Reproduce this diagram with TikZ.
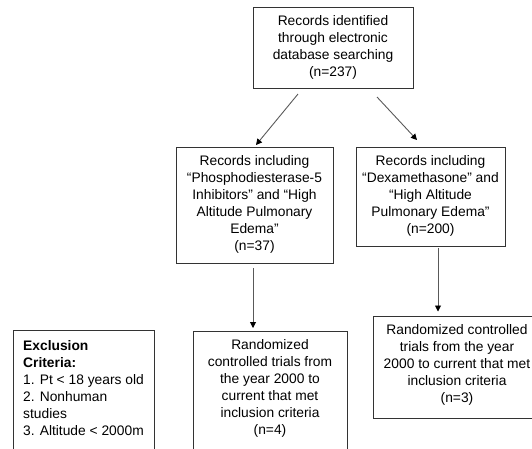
\documentclass[tikz,border=0pt]{standalone}
\usepackage{fontspec}
\setmainfont{Liberation Sans}
\usetikzlibrary{arrows.meta}
\tikzset{
  box/.style={draw=black!80, line width=0.9pt, rectangle, inner sep=0pt},
  txt/.style={font=\fontsize{13.8}{17}\selectfont, align=center, inner sep=0pt},
  arr/.style={draw=black!65, line width=0.9pt, -{Triangle[width=6pt,length=6pt,fill=black,color=black]}}
}
\begin{document}
\begin{tikzpicture}[x=1pt,y=-1pt]
\useasboundingbox (0,0) rectangle (532,448);
\clip (0,0) rectangle (532,448);
% top box
\node[box, minimum width=160pt, minimum height=81pt] (top) at (333,47.5) {};
\node[txt] (topt) at (333,47.5) {Records identified\\through electronic\\database searching\\(n=237)};
% middle left
\node[box, minimum width=157pt, minimum height=116pt] (b2) at (254.5,205) {};
\node[txt] (b2t) at (254.5,204.5) {Records including\\“Phosphodiesterase-5\\Inhibitors” and “High\\Altitude Pulmonary\\Edema”\\(n=37)};
% middle right
\node[box, minimum width=149pt, minimum height=99pt] (b3) at (430.5,196.5) {};
\node[txt] (b3t) at (430.5,195.5) {Records including\\“Dexamethasone” and\\“High Altitude\\Pulmonary Edema”\\(n=200)};
% bottom center
\node[box, minimum width=154pt, minimum height=140pt, anchor=north] (b4) at (270,331) {};
\node[txt] (b4t) at (270,388.5) {Randomized\\controlled trials from\\the year 2000 to\\current that met\\inclusion criteria\\(n=4)};
% bottom right
\node[box, minimum width=168pt, minimum height=102pt, anchor=north] (b5) at (457,316) {};
\node[txt] (b5t) at (457,365) {Randomized controlled\\trials from the year\\2000 to current that met\\inclusion criteria\\(n=3)};
% exclusion
\node[box, minimum width=141pt, minimum height=140pt, anchor=north west] (ex) at (13,330) {};
\node[txt, align=left, anchor=west] (ext) at (23,388.5) {\textbf{Exclusion}\\\textbf{Criteria:}\\1. Pt < 18 years old\\2. Nonhuman\\studies\\3. Altitude < 2000m};
% connectors
\coordinate (a1s) at (298,94);
\coordinate (a1e) at (256,145);
\coordinate (a2s) at (377,97);
\coordinate (a2e) at (417,140);
\draw[arr] (a1s) -- (a1e);
\draw[arr] (a2s) -- (a2e);
\coordinate (a3s) at (253,268);
\coordinate (a3e) at (253,328);
\draw[arr] (a3s) -- (a3e);
\coordinate (a4s) at (438,248);
\coordinate (a4e) at (438,311.5);
\draw[arr] (a4s) -- (a4e);
\end{tikzpicture}
\end{document}
